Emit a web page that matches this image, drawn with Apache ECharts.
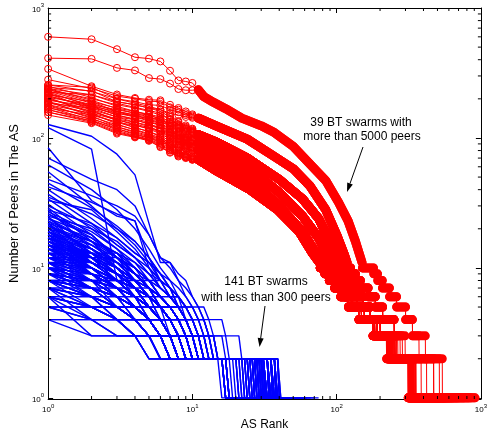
<!DOCTYPE html>
<html>
<head>
<meta charset="utf-8">
<script src="https://cdn.jsdelivr.net/npm/echarts@6/dist/echarts.min.js"></script>
<style>
html, body { margin: 0; padding: 0; background: #fff; }
#chart { width: 490px; height: 436px; }
</style>
</head>
<body>
<div id="chart"></div>
<script>
// ranks of the first points, drawn with circles
var ranksHead = [1, 2, 3, 4, 5, 6, 7, 8, 9, 10];
var minorTicks = [2, 3, 4, 5, 6, 7, 8, 9, 20, 30, 40, 50, 60, 70, 80, 90,
  200, 300, 400, 500, 600, 700, 800, 900];
var yMin = 0.98;   // a hair under 1 so the value-1 lines sit just above the axis line

// ---- red: 39 swarms with more than 5000 peers ----
// heads = values at ranks 1..10, curve = [rank, value] after that,
// steps = last rank at levels 10..4 (shared), ends = last rank at levels 3,2,1
var topHeads = [
  [600, 575, 482, 418, 408, 388, 329, 277, 272, 265],
  [411, 406, 346, 331, 289, 284, 262, 238, 233, 233]
];
var topCurve = [[11, 235], [12, 208], [14, 188], [17, 168], [22, 142], [30, 124], [37, 110],
  [50, 86], [62, 67], [84, 47], [103, 32], [120, 23], [135, 16], [150, 11]];
var topSteps = [180, 192, 207, 232, 260, 300, 335];
var topEnds = [[412, 515, 912], [372, 470, 850]];

var midHeads = [
  [340, 250, 216, 203, 197, 195, 180, 170, 160, 152],
  [281, 240, 210, 200, 192, 190, 172, 165, 155, 149],
  [256, 228, 200, 190, 180, 178, 165, 158, 150, 146],
  [240, 215, 190, 180, 170, 165, 155, 150, 145, 143]
];
var midCurve = [[11, 142], [15, 122], [24, 98], [37, 72], [50, 58], [65, 43], [84, 28],
  [100, 18], [112, 13], [118, 11]];
var midSteps = [125, 135, 146, 165, 185, 208, 250];
var midEnds = [[298, 540, 900], [285, 470, 820], [275, 420, 760], [265, 385, 700]];

var b1Heads = [
  [256, 245, 200, 185, 175, 165, 150, 135, 125, 118],
  [245, 230, 190, 180, 170, 160, 145, 132, 122, 116],
  [235, 200, 180, 170, 160, 150, 140, 128, 120, 114],
  [225, 215, 185, 172, 163, 155, 138, 126, 118, 113],
  [215, 190, 170, 160, 152, 145, 133, 124, 117, 112],
  [205, 180, 165, 155, 150, 140, 130, 122, 115, 111],
  [195, 175, 160, 150, 145, 138, 128, 120, 113, 110],
  [185, 170, 155, 148, 140, 135, 125, 118, 112, 109]
];
var b1Curve = [[11, 106], [15, 92], [24, 70], [40, 48], [58, 34], [75, 24], [90, 16], [100, 12], [105, 11]];
var b1Steps = [110, 118, 127, 138, 152, 170, 200];
var b1Ends = [[255, 355, 680], [252, 352, 640], [250, 350, 620], [258, 345, 600],
  [248, 348, 580], [260, 340, 560], [245, 342, 540], [250, 338, 520]];

var b2Heads = [
  [250, 205, 175, 160, 150, 140, 125, 112, 104, 98],
  [240, 195, 168, 155, 145, 135, 122, 110, 102, 97],
  [230, 185, 160, 150, 140, 130, 118, 108, 101, 97],
  [220, 180, 155, 145, 138, 128, 116, 106, 100, 96],
  [210, 175, 150, 140, 132, 125, 113, 104, 99, 96],
  [200, 165, 145, 138, 128, 120, 110, 102, 98, 95],
  [190, 160, 140, 132, 125, 118, 108, 100, 97, 95],
  [180, 155, 138, 128, 120, 114, 105, 99, 96, 94],
  [170, 150, 132, 125, 118, 112, 103, 97, 95, 93]
];
var b2Curve = [[11, 92], [15, 78], [25, 58], [40, 38], [58, 25], [75, 17], [88, 12], [95, 11]];
var b2Steps = [100, 107, 115, 125, 138, 155, 190];
var b2Ends = [[242, 335, 560], [238, 332, 540], [245, 338, 520], [240, 330, 500], [236, 336, 490],
  [244, 328, 480], [239, 334, 470], [235, 326, 460], [241, 331, 450]];

var b3Heads = [
  [236, 190, 160, 145, 135, 125, 110, 98, 90, 86],
  [226, 175, 150, 138, 128, 118, 105, 95, 88, 85],
  [212, 170, 145, 132, 122, 112, 100, 93, 87, 84],
  [200, 160, 138, 126, 117, 108, 98, 91, 86, 84],
  [188, 152, 132, 120, 112, 104, 95, 89, 85, 83],
  [176, 145, 126, 116, 108, 100, 92, 87, 84, 82],
  [165, 140, 122, 112, 104, 97, 90, 85, 83, 81],
  [158, 135, 118, 108, 100, 94, 88, 84, 82, 80]
];
var b3Curve = [[11, 80], [15, 66], [25, 48], [40, 30], [58, 19], [72, 13], [82, 11]];
var b3Steps = [90, 96, 104, 114, 128, 148, 183];
var b3Ends = [[232, 325, 500], [228, 322, 480], [235, 328, 460], [230, 320, 450],
  [226, 324, 440], [233, 318, 430], [229, 326, 420], [231, 321, 410]];

var b4Heads = [
  [220, 165, 135, 120, 112, 102, 90, 80, 75, 72],
  [205, 155, 128, 115, 106, 98, 87, 78, 74, 71],
  [190, 148, 122, 110, 102, 95, 85, 77, 73, 70],
  [180, 142, 118, 106, 100, 92, 83, 76, 72, 70],
  [172, 138, 115, 104, 98, 90, 81, 75, 72, 69],
  [165, 135, 112, 103, 97, 88, 80, 74, 71, 69],
  [158, 132, 110, 102, 96, 86, 78, 73, 71, 68],
  [150, 130, 108, 101, 95, 85, 77, 72, 70, 68]
];
var b4Curve = [[11, 68], [15, 55], [25, 40], [39, 28], [55, 19], [68, 13], [76, 11]];
var b4Steps = [82, 88, 96, 106, 120, 142, 178];
var b4Ends = [[225, 315, 460], [222, 312, 440], [228, 318, 430], [224, 314, 420],
  [226, 316, 410], [223, 313, 400], [227, 317, 395], [221, 313, 390]];

// ---- blue: 141 swarms with less than 300 peers ----
// values by rank, "v*n" = value v for n ranks in a row
var blueSwarms = [
  '127 103 75 52 22 11 11 9 8 6 5 5 4 3 3 3 2*14 1*45',
  '120 82 8 7 6 5 5 4 4 3 3 3 2*28 1*30',
  '84 33 25 23 12 8 7 6 5 4 4 3 3 2*23 1*30',
  '70 48 40 30 18 12 10 8 7 6 5 4 3 3 2*24 1*22',
  '62 40 28 20 14 10 8 7 6 5 4 4 3 3 2*20 1*21',
  '55 30 20 16 12 9 8 6 5 5 4 3 3 3 2*18 1*18',
  '48 36 30 25 18 12 11 8 6 5 4 3 3 2*26 1*19',
  '42 32 26 23 10 7 6 6 5 4 3 3 2*16 1*17',
  '40 24 17 13 11 9 7 6 5 4 3 3 2*23 1*13',
  '37 22 15 12 9 8 7 5 4 4 3 2*13 1*14',
  '34 20 14 11 9 7 6 5 4 3 3 2*26 1*9',
  '33 28 19 14 10 8 6 5 4 4 3 3 2*18 1*14',
  '31 18 12 10 8 6 5 4 4 3 2*12 1*11',
  '30 21 15 12 10 8 7 5 4 3 3 2*22 1*12',
  '29 16 11 9 7 6 5 4 3 3 2*9 1*9',
  '28 22 17 13 11 9 7 6 5 4 3 3 3 2*23 1*14',
  '28 14 10 8 6 5 4 4 3 2*17 1*8',
  '27 19 14 10 8 7 6 5 4 3 3 2*27 1*9',
  '26 17 13 11 8 6 5 5 4 3 2*17 1*11',
  '25 20 16 12 9 7 6 5 4 4 3 3 2*19 1*14',
  '25 12 9 7 6 5 4 3 3 2*14 1*7',
  '24 18 12 9 7 6 5 4 3 3 2*24 1*8',
  '24 15 11 8 7 6 5 4 3 2*20 1*8',
  '23 16 13 10 8 7 6 5 4 3 3 2*14 1*11',
  '23 13 10 8 6 5 4 3 3 2*7 1*12',
  '22 17 12 10 7 6 5 4 4 3 2*25 1*9',
  '22 11 8 7 5 4 4 3 2*12 1*7',
  '21 15 11 9 7 6 5 4 3 3 2*20 1*12',
  '21 14 10 8 7 5 4 3 3 2*23 1*6',
  '20 16 12 10 8 6 5 4 3 3 2*16 1*14',
  '20 12 9 7 6 5 4 3 2*8 1*14',
  '19 14 11 8 7 6 5 4 3 3 2*27 1*9',
  '19 13 9 7 6 5 4 4 3 2*19 1*7',
  '19 11 8 6 5 4 3 3 2*16 1*9',
  '18 14 10 8 6 5 4 3 3 2*24 1*9',
  '18 12 9 7 5 4 4 3 2*8 1*12',
  '18 10 7 6 5 4 3 2*22 1*8',
  '17 13 10 8 6 5 4 3 3 2*12 1*9',
  '17 12 8 6 5 4 3 3 2*27 1*10',
  '17 9 7 6 5 4 3 2*20 1*6',
  '16 13 11 9 7 6 5 4 3 2*22 1*11',
  '16 11 8 7 5 4 3 3 2*8 1*14',
  '16 10 7 5 4 4 3 2*31 1*6',
  '16 12 10 8 7 6 5 4 3 3 2*24 1*12',
  '15 12 9 7 6 5 4 3 3 2*16 1*8',
  '15 10 8 6 5 4 3 2*23 1*6',
  '15 11 9 7 5 4 4 3 3 2*27 1*9',
  '15 9 6 5 4 3 3 2*10 1*13',
  '14 11 8 7 6 5 4 3 2*15 1*10',
  '14 10 7 6 5 4 3 3 2*24 1*6',
  '14 9 7 5 4 3 3 2*20 1*8',
  '14 12 10 8 6 5 4 3 3 2*30 1*11',
  '13 13 13 9 7 6 5 4 3 2*20 1*8',
  '13 10 8 6 5 4 3 3 2*8 1*14',
  '13 9 7 5 4 4 3 2*15 1*6',
  '13 11 8 7 6 5 4 3 3 2*24 1*9',
  '12 12 12 8 6 5 4 3 2*18 1*7',
  '12 9 7 6 5 4 3 3 2*29 1*8',
  '12 10 8 6 5 4 3 2*23 1*6',
  '12 8 6 5 4 3 3 2*10 1*16',
  '12 11 9 7 6 5 4 4 3 2*19 1*11',
  '11 9 7 6 5 4 3 3 2*16 1*7',
  '11 8 6 5 4 4 3 2*27 1*6',
  '11 10 8 7 5 4 3 3 2*23 1*9',
  '11 7 6 5 4 3 2*14 1*10',
  '11 9 8 6 5 4 4 3 2*28 1*8',
  '11 8 7 5 4 3 3 2*19 1*6',
  '10 8 7 6 5 4 3 3 2*21 1*8',
  '10 7 6 5 4 3 2*12 1*11',
  '10 9 7 6 5 4 4 3 3 2*24 1*10',
  '10 8 6 5 4 3 3 2*20 1*5',
  '10 7 5 4 4 3 2*29 1*6',
  '10 10 8 7 6 5 4 3 2*17 1*8',
  '10 6 5 4 3 3 2*10 1*10',
  '9 8 7 6 5 4 3 3 2*30 1*9',
  '9 7 6 5 4 3 2*24 1*5',
  '9 8 6 5 4 4 3 2*21 1*7',
  '9 6 5 4 3 3 2*11 1*11',
  '9 7 5 5 4 3 3 2*25 1*5',
  '9 8 7 5 4 3 2*18 1*8',
  '8*6 6 5 4 3 2*20 1*8',
  '8 7 6 5 4 3 3 2*28 1*6',
  '8 6 5 4 4 3 2*21 1*6',
  '8 7 5 4 3 3 2*11 1*10',
  '8 6 5 5 4 3 2*25 1*8',
  '8 5 4 4 3 2*18 1*5',
  '8 7 6 4 4 3 3 2*29 1*6',
  '8 6 4 3 3 2*12 1*11',
  '7*5 5 4 3 2*21 1*7',
  '7 6 5 4 3 3 2*27 1*5',
  '7 5 4 4 3 2*21 1*7',
  '7 6 5 5 4 3 2*10 1*11',
  '7 4 3 3 2*13 1*12',
  '7 5 4 3 3 2*26 1*8',
  '7 6 4 4 3 2*23 1*5',
  '6*8 4 3 2*22 1*7',
  '6 5 4 3 3 2*19 1*6',
  '6 4 4 3 2*31 1*5',
  '6 5 5 4 3 2*10 1*15',
  '6 3 3 3 2*12 1*11',
  '6 5 4 4 3 3 2*23 1*4',
  '5*11 4 3 2*21 1*7',
  '5*9 4 3 2*16 1*5',
  '5 4 4 3 3 2*25 1*6',
  '5 4 3 3 2*13 1*10',
  '4*16 3 2*20 1*6',
  '4*12 3 3 2*19 1*5',
  '4 3*20 2*10 1*12',
  '24 16 10 7 5 4 3 3 2*18 1*7',
  '22 13 9 8 6 5 4 3 2*30 1*7',
  '20 14 10 7 6 4 4 3 2*20 1*10',
  '19 12 8 6 5 4 3 2*24 1*6',
  '18 11 9 7 5 4 3 3 2*14 1*6',
  '17 11 8 6 4 4 3 2*28 1*8',
  '16 12 9 6 5 4 3 3 2*21 1*7',
  '15 13 10 8 6 5 4 3 2*25 1*8',
  '14 10 8 6 4 3 3 2*17 1*7',
  '13 12 9 7 5 4 3 2*30 1*5',
  '13 8 6 5 4 3 2*21 1*8',
  '12 10 7 6 4 4 3 2*23 1*6',
  '12 9 6 5 4 3 3 2*13 1*6',
  '11 10 7 5 4 3 3 2*27 1*9',
  '11 7 5 4 4 3 2*22 1*5',
  '10 9 8 6 4 3 3 2*25 1*7',
  '10 8 5 4 3 3 2*19 1*6',
  '9 9 7 5 4 3 2*30 1*8',
  '9 7 6 4 3 3 2*23 1*5',
  '8 8 6 5 4 3 3 2*26 1*7',
  '8 7 5 4 3 2*16 1*5',
  '26 18 12 9 7 5 4 3 3 2*30 1*13',
  '21 16 13 9 7 5 4 4 3 2*21 1*10',
  '19 15 12 9 8 6 5 4 3 3 2*25 1*15',
  '17 14 11 9 7 5 4 3 2*18 1*9',
  '15 12 10 7 6 5 3 3 2*24 1*11',
  '14 13 11 8 6 5 4 3 3 2*19 1*8',
  '12 11 9 8 6 5 4 3 2*29 1*10',
  '11 11 9 7 6 4 3 3 2*15 1*7',
  '10 9 8 7 5 4 3 2*27 1*9',
  '9 8 8 6 5 4 3 3 2*22 1*7',
  '35 26 20 15 11 8 6 5 4 3 3 2*29 1*22',
  '45 29 21 16 12 9 7 5 4 3 3 2*25 1*26'
];

var RED = '#ff0000';
var BLUE = '#0000ff';
var FONT = '"Liberation Sans", Arial, Helvetica, sans-serif';

function expand(str) {
  var out = [];
  str.split(' ').forEach(function (tok) {
    var p = tok.split('*');
    var v = +p[0], n = p.length > 1 ? +p[1] : 1;
    for (var i = 0; i < n; i++) out.push([out.length + 1, v]);
  });
  return out;
}

var series = [];

blueSwarms.forEach(function (s) {
  series.push({
    type: 'line', data: expand(s), symbol: 'none', silent: true,
    lineStyle: { color: BLUE, width: 1.4 }
  });
});

function addRed(heads, curve, steps, ends) {
  heads.forEach(function (head, idx) {
    var pts = head.map(function (v, i) { return [ranksHead[i], v]; }).concat(curve);
    var band = curve.slice();
    var levels = steps.concat(ends[idx]);
    var start = curve[curve.length - 1][0] + 1;
    levels.forEach(function (end, k) {
      var v = 10 - k;
      if (end < start) return;
      pts.push([start, v], [end, v]);
      band.push([start, '-'], [start, v], [end, v]);
      start = end + 1;
    });
    series.push({
      type: 'line', data: band, symbol: 'none', silent: true, connectNulls: false,
      lineStyle: { color: RED, width: 9, cap: 'round', join: 'round' }
    });
    series.push({
      type: 'line', data: pts, symbol: 'circle', showAllSymbol: true, silent: true,
      symbolSize: function (val, p) { return p.dataIndex < ranksHead.length ? 7 : 0; },
      lineStyle: { color: RED, width: 1 },
      itemStyle: { color: 'rgba(0,0,0,0)', borderColor: RED, borderWidth: 1 }
    });
  });
}
addRed(topHeads, topCurve, topSteps, topEnds);
addRed(midHeads, midCurve, midSteps, midEnds);
addRed(b1Heads, b1Curve, b1Steps, b1Ends);
addRed(b2Heads, b2Curve, b2Steps, b2Ends);
addRed(b3Heads, b3Curve, b3Steps, b3Ends);
addRed(b4Heads, b4Curve, b4Steps, b4Ends);

// minor ticks on all four sides of the box
function tick(x1, y1, x2, y2) {
  return { type: 'line', shape: { x1: x1, y1: y1, x2: x2, y2: y2 }, style: { stroke: '#000', lineWidth: 1 } };
}
series.push({
  type: 'custom', silent: true, z: 10,
  data: minorTicks.map(function (v) { return [v, v]; }),
  encode: { x: 0, y: 1 },
  renderItem: function (params, api) {
    var v = api.value(0);
    var b = api.coord([v, yMin]), t = api.coord([v, 1000]);
    var l = api.coord([1, v]), r = api.coord([1000, v]);
    return {
      type: 'group', children: [
        tick(b[0], b[1], b[0], b[1] - 3), tick(t[0], t[1], t[0], t[1] + 3),
        tick(l[0], l[1], l[0] + 3, l[1]), tick(r[0], r[1], r[0] - 3, r[1])
      ]
    };
  }
});

function powLabel(v) {
  return '{a|10}{b|' + Math.round(Math.log(v) / Math.LN10) + '}';
}
var powRich = {
  a: { fontSize: 8, lineHeight: 11, verticalAlign: 'bottom', fontFamily: FONT, color: '#000' },
  b: { fontSize: 6, lineHeight: 11, verticalAlign: 'top', fontFamily: FONT, color: '#000' }
};

function logAxis(extra) {
  var ax = {
    type: 'log', logBase: 10, min: 1, max: 1000, splitNumber: 3,
    splitLine: { show: false },
    axisLine: { lineStyle: { color: '#000', width: 1 } },
    axisTick: { inside: true, length: 5, lineStyle: { color: '#000' } },
    axisLabel: { show: false }
  };
  for (var k in extra) ax[k] = extra[k];
  return ax;
}

var myChart = echarts.init(document.getElementById('chart'));
var option = {
  animation: false,
  backgroundColor: '#fff',
  grid: { left: 40, right: 3, top: 8, bottom: 34.75 },
  xAxis: [
    logAxis({
      position: 'bottom', name: 'AS Rank', nameLocation: 'middle', nameGap: 20,
      nameTextStyle: { fontSize: 12, fontFamily: FONT, color: '#000' },
      axisLabel: { show: true, margin: 4, formatter: powLabel, rich: powRich, showMinLabel: true, showMaxLabel: true }
    }),
    logAxis({ position: 'top' })
  ],
  yAxis: [
    logAxis({
      position: 'left', min: yMin, name: 'Number of Peers in The AS', nameLocation: 'middle', nameGap: 27,
      nameTextStyle: { fontSize: 13, fontFamily: FONT, color: '#000' },
      axisTick: { inside: true, length: 5, lineStyle: { color: '#000' }, interval: function (i, v) { return v >= 1; } },
      axisLabel: { show: true, margin: 4, formatter: powLabel, rich: powRich, showMinLabel: false, showMaxLabel: true }
    }),
    logAxis({
      position: 'right', min: yMin,
      axisTick: { inside: true, length: 5, lineStyle: { color: '#000' }, interval: function (i, v) { return v >= 1; } }
    })
  ],
  graphic: [
    { type: 'text', x: 361, y: 123, style: { text: '39 BT swarms with', align: 'center', verticalAlign: 'middle', font: '12px ' + FONT, fill: '#000' } },
    { type: 'text', x: 362, y: 137, style: { text: 'more than 5000 peers', align: 'center', verticalAlign: 'middle', font: '12px ' + FONT, fill: '#000' } },
    { type: 'line', shape: { x1: 363, y1: 147, x2: 350, y2: 183.5 }, style: { stroke: '#000', lineWidth: 1 } },
    { type: 'polygon', shape: { points: [[347, 192], [352.8, 184.5], [347.2, 182.5]] }, style: { fill: '#000' } },
    { type: 'text', x: 266, y: 282, style: { text: '141 BT swarms', align: 'center', verticalAlign: 'middle', font: '12px ' + FONT, fill: '#000' } },
    { type: 'text', x: 266, y: 298, style: { text: 'with less than 300 peers', align: 'center', verticalAlign: 'middle', font: '12px ' + FONT, fill: '#000' } },
    { type: 'line', shape: { x1: 265, y1: 306, x2: 260.7, y2: 338.1 }, style: { stroke: '#000', lineWidth: 1 } },
    { type: 'polygon', shape: { points: [[259.5, 347], [263.7, 338.5], [257.7, 337.7]] }, style: { fill: '#000' } }
  ],
  series: series
};
option && myChart.setOption(option);
</script>
</body>
</html>
